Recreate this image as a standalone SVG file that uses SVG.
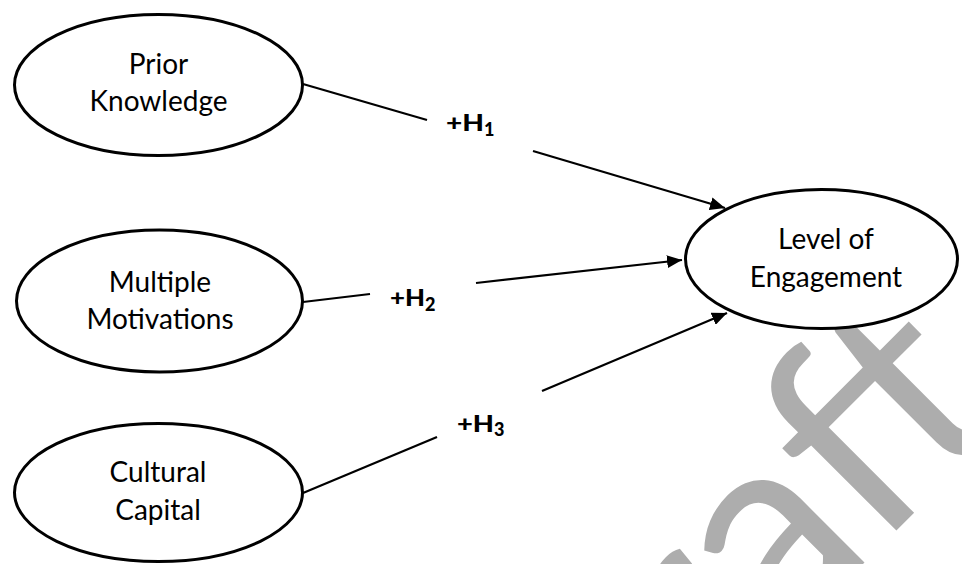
<svg xmlns="http://www.w3.org/2000/svg" width="962" height="564" viewBox="0 0 962 564">
<style>
.node ellipse{fill:#fff;stroke:#000;stroke-width:3}
.node text{font-family:Lato,"Liberation Sans",sans-serif;font-size:28px;fill:#000;text-anchor:middle}
.edge line{stroke:#000;stroke-width:2.2;fill:none}
.lbl{font-family:Lato,"Liberation Sans",sans-serif;font-weight:900;fill:#000;font-size:23px}
.sub{font-family:Lato,"Liberation Sans",sans-serif;font-weight:900;fill:#000;font-size:18px}
.wm{font-family:Lato,"Liberation Sans",sans-serif;font-size:280px;fill:#adadad}
</style>
<defs>
<marker id="arr" markerUnits="userSpaceOnUse" markerWidth="16" markerHeight="13" refX="15" refY="6.5" orient="auto">
<path d="M0,0 L15,6.5 L0,13 z" fill="#000"/>
</marker>
</defs>
<text class="wm" transform="translate(560,867) rotate(-45)">Draft</text>
<g id="connectors" class="edge">
<line x1="303" y1="84" x2="427" y2="120"/>
<line x1="533" y1="151" x2="725" y2="208" marker-end="url(#arr)"/>
<line x1="303" y1="302" x2="370" y2="294"/>
<line x1="476" y1="283" x2="682" y2="260" marker-end="url(#arr)"/>
<line x1="303" y1="493" x2="437" y2="437"/>
<line x1="542" y1="391" x2="727" y2="313" marker-end="url(#arr)"/>
<text class="lbl" x="446" y="131" textLength="38" lengthAdjust="spacingAndGlyphs">+H</text>
<text class="sub" x="484" y="136">1</text>
<text class="lbl" x="390" y="306" textLength="35" lengthAdjust="spacingAndGlyphs">+H</text>
<text class="sub" x="425" y="311">2</text>
<text class="lbl" x="457" y="432" textLength="37" lengthAdjust="spacingAndGlyphs">+H</text>
<text class="sub" x="494" y="436">3</text>
</g>
<g id="prior-knowledge" class="node">
<ellipse cx="158.5" cy="85" rx="144" ry="70.5"/>
<text x="158.5" y="74">Prior</text>
<text x="158.5" y="111">Knowledge</text>
</g>
<g id="multiple-motivations" class="node">
<ellipse cx="159.5" cy="301" rx="143" ry="71"/>
<text x="160" y="292">Multiple</text>
<text x="160" y="329">Motivations</text>
</g>
<g id="cultural-capital" class="node">
<ellipse cx="158.5" cy="492.5" rx="144" ry="69"/>
<text x="158" y="482">Cultural</text>
<text x="158" y="520">Capital</text>
</g>
<g id="level-of-engagement" class="node">
<ellipse cx="821.5" cy="259" rx="136" ry="69.5"/>
<text x="826" y="249">Level of</text>
<text x="826" y="287">Engagement</text>
</g>
</svg>
